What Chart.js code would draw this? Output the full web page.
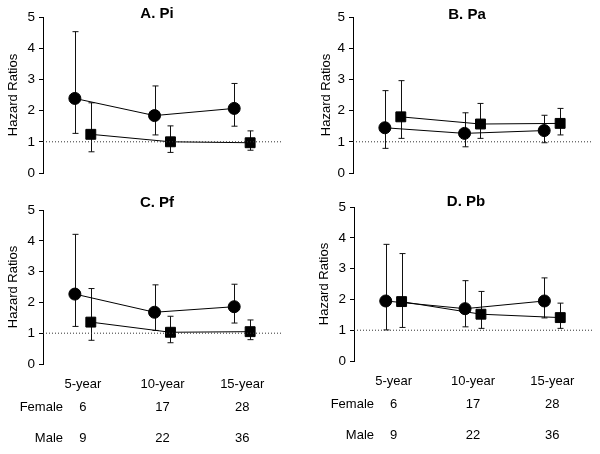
<!DOCTYPE html>
<html>
<head>
<meta charset="utf-8">
<script src="https://cdn.jsdelivr.net/npm/chart.js@4.4.1/dist/chart.umd.min.js"></script>
<style>
  html, body { margin: 0; padding: 0; background: #fff; }
  #wrap { position: relative; width: 600px; height: 454px; overflow: hidden; }
  canvas { position: absolute; }
</style>
</head>
<body>
<div id="wrap">
  <canvas id="panelA" width="300" height="195" style="left:0;top:0"></canvas>
  <canvas id="panelB" width="300" height="195" style="left:300px;top:0"></canvas>
  <canvas id="panelC" width="300" height="259" style="left:0;top:195px"></canvas>
  <canvas id="panelD" width="300" height="259" style="left:300px;top:195px"></canvas>
</div>
<script>
// Categories and counts
const periods = ['5-year', '10-year', '15-year'];
const femaleN = [6, 17, 28];
const maleN = [9, 22, 36];

// A. Pi
const piFemale = [2.39, 1.84, 2.07];
const piFemaleLo = [1.27, 1.22, 1.50];
const piFemaleHi = [4.53, 2.79, 2.87];
const piMale = [1.24, 1.00, 0.97];
const piMaleLo = [0.68, 0.66, 0.73];
const piMaleHi = [2.25, 1.51, 1.35];

// B. Pa
const paFemale = [1.45, 1.27, 1.36];
const paFemaleLo = [0.79, 0.84, 0.97];
const paFemaleHi = [2.64, 1.93, 1.85];
const paMale = [1.80, 1.57, 1.59];
const paMaleLo = [1.11, 1.11, 1.22];
const paMaleHi = [2.96, 2.23, 2.07];

// C. Pf
const pfFemale = [2.27, 1.68, 1.86];
const pfFemaleLo = [1.22, 1.09, 1.33];
const pfFemaleHi = [4.21, 2.57, 2.59];
const pfMale = [1.36, 1.03, 1.05];
const pfMaleLo = [0.77, 0.69, 0.79];
const pfMaleHi = [2.45, 1.55, 1.43];

// D. Pb
const pbFemale = [1.95, 1.70, 1.95];
const pbFemaleLo = [1.01, 1.11, 1.40];
const pbFemaleHi = [3.79, 2.61, 2.70];
const pbMale = [1.93, 1.52, 1.41];
const pbMaleLo = [1.09, 1.06, 1.06];
const pbMaleHi = [3.49, 2.26, 1.88];

const yTicks = [0, 1, 2, 3, 4, 5];
const refLine = 1;

const FONT = "'Liberation Sans', Arial, sans-serif";
const OFFSET = 0.1; // circle left / square right of the category

Chart.defaults.font.family = FONT;
Chart.defaults.color = '#000';

// Error bars with caps, drawn under the markers
const errorBarPlugin = {
    id: 'errorBars',
    beforeDatasetsDraw(chart) {
        const ctx = chart.ctx;
        const y = chart.scales.y;
        ctx.save();
        ctx.strokeStyle = '#111';
        ctx.lineWidth = 1;
        chart.data.datasets.forEach((ds, di) => {
            if (!ds.errLo) return;
            const meta = chart.getDatasetMeta(di);
            meta.data.forEach((pt, i) => {
                const x = Math.round(pt.x) + 0.5;
                const yLo = y.getPixelForValue(ds.errLo[i]);
                const yHi = y.getPixelForValue(ds.errHi[i]);
                ctx.beginPath();
                ctx.moveTo(x, yLo);
                ctx.lineTo(x, yHi);
                ctx.moveTo(x - 3, yLo);
                ctx.lineTo(x + 3, yLo);
                ctx.moveTo(x - 3, yHi);
                ctx.lineTo(x + 3, yHi);
                ctx.stroke();
            });
        });
        ctx.restore();
    }
};

// Panel title and the period / count rows under the bottom panels
const textPlugin = {
    id: 'panelText',
    afterDraw(chart) {
        const opts = chart.options.plugins.panelText;
        const ctx = chart.ctx;
        const area = chart.chartArea;
        const x = chart.scales.x;
        ctx.save();
        ctx.fillStyle = '#000';
        ctx.textBaseline = 'middle';

        ctx.font = 'bold 15px ' + FONT;
        ctx.textAlign = 'center';
        ctx.fillText(opts.title, opts.titleX, opts.titleY);

        if (opts.showRows) {
            ctx.font = '13px ' + FONT;
            periods.forEach((p, i) => {
                const px = x.getPixelForValue(i + 1);
                ctx.textAlign = 'center';
                ctx.fillText(p, px, area.bottom + 20);
                ctx.fillText(String(femaleN[i]), px, area.bottom + 43);
                ctx.fillText(String(maleN[i]), px, area.bottom + 74);
            });
            ctx.textAlign = 'right';
            ctx.fillText('Female', area.left + 20, area.bottom + 43);
            ctx.fillText('Male', area.left + 20, area.bottom + 74);
        }
        ctx.restore();
    }
};

function points(values, shift) {
    return values.map((v, i) => ({ x: i + 1 + shift, y: v }));
}

function makePanel(id, cfg) {
    const ctx = document.getElementById(id);
    new Chart(ctx, {
        type: 'line',
        data: {
            datasets: [
                {
                    data: [{ x: 0.5, y: refLine }, { x: 3.5, y: refLine }],
                    borderColor: '#333',
                    borderWidth: 1,
                    borderDash: [1, 2],
                    pointRadius: 0
                },
                {
                    data: points(cfg.female, -OFFSET),
                    errLo: cfg.femaleLo,
                    errHi: cfg.femaleHi,
                    borderColor: '#000',
                    borderWidth: 1,
                    backgroundColor: '#000',
                    pointStyle: 'circle',
                    pointRadius: 6,
                    pointBorderWidth: 1,
                    tension: 0
                },
                {
                    data: points(cfg.male, OFFSET),
                    errLo: cfg.maleLo,
                    errHi: cfg.maleHi,
                    borderColor: '#000',
                    borderWidth: 1,
                    backgroundColor: '#000',
                    pointStyle: 'rect',
                    pointRadius: 7,
                    pointBorderWidth: 1,
                    tension: 0
                }
            ]
        },
        options: {
            responsive: false,
            animation: false,
            devicePixelRatio: 1,
            layout: { padding: cfg.padding },
            plugins: {
                legend: { display: false },
                tooltip: { enabled: false },
                panelText: {
                    title: cfg.title,
                    titleX: cfg.titleX,
                    titleY: cfg.titleY,
                    showRows: cfg.showRows
                }
            },
            scales: {
                x: {
                    type: 'linear',
                    min: 0.5,
                    max: 3.5,
                    display: false
                },
                y: {
                    min: yTicks[0],
                    max: yTicks[yTicks.length - 1],
                    afterFit: (scale) => { scale.width = cfg.axisWidth; },
                    afterBuildTicks: (scale) => {
                        scale.ticks = yTicks.map(v => ({ value: v }));
                    },
                    border: { display: true, color: '#000', width: 1 },
                    grid: {
                        drawOnChartArea: false,
                        drawTicks: true,
                        tickLength: 4,
                        color: '#000'
                    },
                    ticks: {
                        padding: 4,
                        font: { size: 13.5 },
                        color: '#000'
                    },
                    title: {
                        display: true,
                        text: 'Hazard Ratios',
                        font: { size: 13 },
                        color: '#000',
                        padding: { top: 4, bottom: 0 }
                    }
                }
            }
        },
        plugins: [errorBarPlugin, textPlugin]
    });
}

makePanel('panelA', {
    title: 'A. Pi', titleX: 157, titleY: 14, showRows: false,
    padding: { left: 2, top: 17, right: 18, bottom: 22 }, axisWidth: 41,
    female: piFemale, femaleLo: piFemaleLo, femaleHi: piFemaleHi,
    male: piMale, maleLo: piMaleLo, maleHi: piMaleHi
});

makePanel('panelB', {
    title: 'B. Pa', titleX: 167, titleY: 15, showRows: false,
    padding: { left: 15, top: 17, right: 6, bottom: 22 }, axisWidth: 38,
    female: paFemale, femaleLo: paFemaleLo, femaleHi: paFemaleHi,
    male: paMale, maleLo: paMaleLo, maleHi: paMaleHi
});

makePanel('panelC', {
    title: 'C. Pf', titleX: 157, titleY: 8, showRows: true,
    padding: { left: 2, top: 15, right: 18, bottom: 90 }, axisWidth: 41,
    female: pfFemale, femaleLo: pfFemaleLo, femaleHi: pfFemaleHi,
    male: pfMale, maleLo: pfMaleLo, maleHi: pfMaleHi
});

makePanel('panelD', {
    title: 'D. Pb', titleX: 166, titleY: 7, showRows: true,
    padding: { left: 13, top: 10, right: 5, bottom: 93 }, axisWidth: 41,
    female: pbFemale, femaleLo: pbFemaleLo, femaleHi: pbFemaleHi,
    male: pbMale, maleLo: pbMaleLo, maleHi: pbMaleHi
});
</script>
</body>
</html>
